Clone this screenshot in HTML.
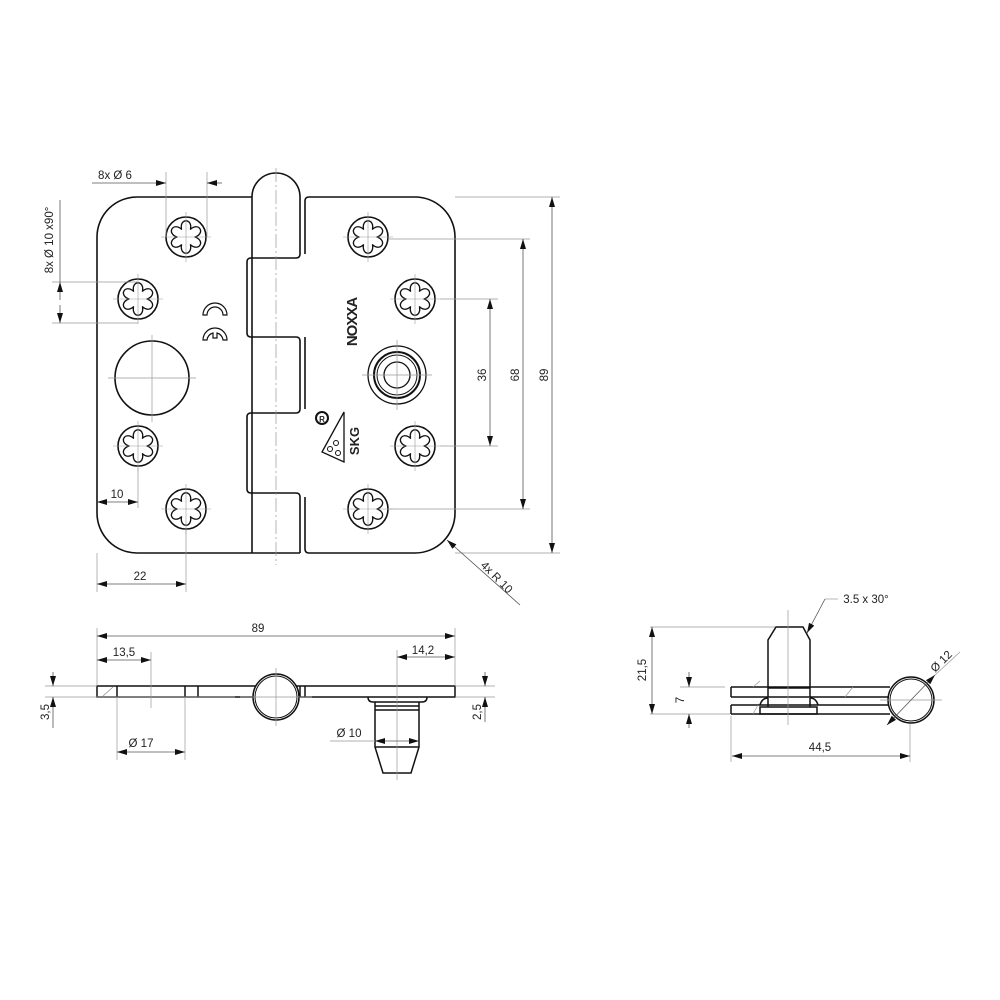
<!DOCTYPE html>
<html><head><meta charset="utf-8"><style>
html,body{margin:0;padding:0;background:#fff}
svg{display:block}
text{font-family:"Liberation Sans",sans-serif;font-size:11.5px;fill:#222}
</style></head><body>
<svg width="1000" height="1000" viewBox="0 0 1000 1000" xmlns="http://www.w3.org/2000/svg">
<defs>
<marker id="a" viewBox="0 0 10 6" refX="10" refY="3" markerWidth="10" markerHeight="6" orient="auto-start-reverse" markerUnits="userSpaceOnUse"><path d="M0 0 L10 3 L0 6 Z" fill="#111"/></marker>
<g id="tx">
<circle r="20" fill="none" stroke="#111" stroke-width="1.6"/>
<path transform="scale(1.12)" d="M-4,-6.93 C-5.98,-16.98 5.98,-16.98 4,-6.93 C11.72,-13.66 17.69,-3.31 8,0 C17.69,3.31 11.72,13.66 4,6.93 C5.98,16.98 -5.98,16.98 -4,6.93 C-11.72,13.66 -17.69,3.31 -8,0 C-17.69,-3.31 -11.72,-13.66 -4,-6.93 Z" fill="none" stroke="#111" stroke-width="1.2" stroke-linejoin="round"/>
<line x1="-25" y1="0" x2="25" y2="0" stroke="#999" stroke-width="0.6"/>
<line x1="0" y1="-25" x2="0" y2="25" stroke="#999" stroke-width="0.6"/>
</g>
</defs>
<g fill="none" stroke="#111" stroke-width="1.6">
<path d="M252,197 H137 A40,40 0 0 0 97,237 V513 A40,40 0 0 0 137,553 H252"/>
<path d="M252,197 A24,24 0 0 1 300,197"/>
<line x1="252" y1="197" x2="252" y2="553"/>
<path d="M300,197 V254 Q300,258 296,258 H251 Q247,258 247,262 V333 Q247,337 251,337 H296 Q300,337 300,341 V409 Q300,413 296,413 H251 Q247,413 247,417 V489 Q247,493 251,493 H296 Q300,493 300,497 V553"/>
<line x1="252" y1="553" x2="300" y2="553"/>
<path d="M305,201 Q305,197 309,197 H415 A40,40 0 0 1 455,237 V513 A40,40 0 0 1 415,553 H309 Q305,553 305,549 V497"/>
<path d="M305,201 V254"/>
<path d="M305,337 V409"/>
<circle cx="152" cy="378" r="37"/>
<circle cx="397" cy="375" r="29" stroke-width="1.3"/>
<circle cx="397" cy="375" r="23" stroke-width="2"/>
<circle cx="397" cy="375" r="20" stroke-width="1"/>
<circle cx="397" cy="375" r="13" stroke-width="1.3"/>
<path d="M203,315 A12,12 0 0 1 227,315 L223,315 A8,8 0 0 0 207,315 Z" stroke-width="1.2"/>
<path d="M203,340 A12,12 0 0 1 227,340 L223,340 A8,8 0 0 0 217,333 L217,338 L213,338 L213,333 A8,8 0 0 0 207,340 Z" stroke-width="1.2"/>
<path d="M344,412 L344,462 L322,452 Z" stroke-width="1.3"/>
<circle cx="322" cy="418" r="6" stroke-width="2"/>
<circle cx="336" cy="443" r="2.5" stroke-width="1"/>
<circle cx="330" cy="449" r="2.5" stroke-width="1"/>
<circle cx="338" cy="453" r="2.5" stroke-width="1"/>
</g>
<text x="322" y="422" text-anchor="middle" style="font-size:8px;font-weight:bold">R</text>
<text transform="translate(357,322) rotate(-90)" text-anchor="middle" style="font-size:15px;font-weight:bold;letter-spacing:-1px">NOXXA</text>
<text transform="translate(359,441) rotate(-90)" text-anchor="middle" style="font-size:13px;font-weight:bold">SKG</text>
<use href="#tx" x="186" y="237"/><use href="#tx" x="138" y="299"/><use href="#tx" x="138" y="446"/><use href="#tx" x="186" y="509"/>
<use href="#tx" x="368" y="237"/><use href="#tx" x="415" y="299"/><use href="#tx" x="415" y="446"/><use href="#tx" x="368" y="509"/>
<g stroke="#999" stroke-width="0.7" fill="none">
<line x1="276" y1="168" x2="276" y2="565" stroke-dasharray="14,3,2,3"/>
<line x1="152" y1="335" x2="152" y2="422"/><line x1="108" y1="378" x2="196" y2="378"/>
<line x1="397" y1="340" x2="397" y2="410"/><line x1="362" y1="375" x2="432" y2="375"/>
<line x1="166" y1="172" x2="166" y2="237"/><line x1="207" y1="172" x2="207" y2="237"/>
<line x1="52" y1="282" x2="138" y2="282"/><line x1="52" y1="323" x2="138" y2="323"/>
<line x1="455" y1="197" x2="560" y2="197"/><line x1="388" y1="239" x2="530" y2="239"/>
<line x1="440" y1="299" x2="498" y2="299"/><line x1="440" y1="446" x2="498" y2="446"/>
<line x1="388" y1="509" x2="530" y2="509"/><line x1="455" y1="553" x2="560" y2="553"/>
<line x1="97" y1="553" x2="97" y2="592"/><line x1="186" y1="530" x2="186" y2="592"/>
<line x1="138" y1="468" x2="138" y2="508"/>
</g>
<g stroke="#555" stroke-width="0.8" fill="none">
<line x1="92" y1="183" x2="166" y2="183" marker-end="url(#a)"/>
<line x1="222" y1="183" x2="207" y2="183" marker-end="url(#a)"/>
<line x1="60" y1="200" x2="60" y2="282"/>
<line x1="60" y1="300" x2="60" y2="282" marker-end="url(#a)"/>
<line x1="60" y1="305" x2="60" y2="323" marker-end="url(#a)"/>
<line x1="490" y1="299" x2="490" y2="446" marker-start="url(#a)" marker-end="url(#a)"/>
<line x1="523" y1="239" x2="523" y2="509" marker-start="url(#a)" marker-end="url(#a)"/>
<line x1="552" y1="197" x2="552" y2="553" marker-start="url(#a)" marker-end="url(#a)"/>
<line x1="97" y1="502" x2="138" y2="502" marker-start="url(#a)" marker-end="url(#a)"/>
<line x1="97" y1="584" x2="186" y2="584" marker-start="url(#a)" marker-end="url(#a)"/>
<line x1="520" y1="605" x2="447" y2="540" marker-end="url(#a)"/>
</g>
<text x="115" y="179" text-anchor="middle">8x Ø 6</text>
<text transform="translate(53,240) rotate(-90)" text-anchor="middle">8x Ø 10 x90°</text>
<text transform="translate(486,375) rotate(-90)" text-anchor="middle">36</text>
<text transform="translate(519,375) rotate(-90)" text-anchor="middle">68</text>
<text transform="translate(548,375) rotate(-90)" text-anchor="middle">89</text>
<text x="117" y="498" text-anchor="middle">10</text>
<text x="140" y="580" text-anchor="middle">22</text>
<text transform="translate(494,580) rotate(45)" text-anchor="middle">4x R 10</text>

<g fill="none" stroke="#111" stroke-width="1.5">
<rect x="97" y="686" width="358" height="11"/>
<line x1="117" y1="686" x2="117" y2="697"/><line x1="185" y1="686" x2="185" y2="697"/><line x1="198" y1="686" x2="198" y2="697"/>
<line x1="300" y1="686" x2="300" y2="697"/><line x1="305" y1="686" x2="305" y2="697"/>
<circle cx="276" cy="697" r="23" fill="#fff" stroke-width="1.5"/>
<circle cx="276" cy="697" r="21" stroke-width="1"/>
<path d="M368,697 Q368,702 373,702 H422 Q427,702 427,697"/>
<path d="M375,702 V747 L383,773 H411 L419,747 V702"/>
<line x1="375" y1="706" x2="419" y2="706"/><line x1="375" y1="710" x2="419" y2="710"/><line x1="375" y1="747" x2="419" y2="747"/>
</g>
<line x1="103" y1="696" x2="113" y2="687" stroke="#888" stroke-width="0.7"/>
<g stroke="#999" stroke-width="0.7" fill="none">
<line x1="97" y1="628" x2="97" y2="686"/><line x1="455" y1="628" x2="455" y2="686"/>
<line x1="151" y1="652" x2="151" y2="708"/><line x1="397" y1="650" x2="397" y2="780"/>
<line x1="117" y1="697" x2="117" y2="760"/><line x1="185" y1="697" x2="185" y2="760"/>
<line x1="276" y1="668" x2="276" y2="726"/><line x1="240" y1="697" x2="312" y2="697"/>
<line x1="45" y1="686" x2="97" y2="686"/><line x1="45" y1="697" x2="235" y2="697"/>
<line x1="455" y1="686" x2="495" y2="686"/><line x1="455" y1="697" x2="495" y2="697"/>
<line x1="330" y1="741" x2="375" y2="741"/>
</g>
<g stroke="#555" stroke-width="0.8" fill="none">
<line x1="97" y1="636" x2="455" y2="636" marker-start="url(#a)" marker-end="url(#a)"/>
<line x1="97" y1="660" x2="151" y2="660" marker-start="url(#a)" marker-end="url(#a)"/>
<line x1="397" y1="657" x2="455" y2="657" marker-start="url(#a)" marker-end="url(#a)"/>
<line x1="117" y1="752" x2="185" y2="752" marker-start="url(#a)" marker-end="url(#a)"/>
<line x1="375" y1="741" x2="419" y2="741" marker-start="url(#a)" marker-end="url(#a)"/>
<line x1="53" y1="672" x2="53" y2="686" marker-end="url(#a)"/>
<line x1="53" y1="728" x2="53" y2="697" marker-end="url(#a)"/>
<line x1="485" y1="672" x2="485" y2="686" marker-end="url(#a)"/>
<line x1="485" y1="722" x2="485" y2="697" marker-end="url(#a)"/>
</g>
<text x="258" y="632" text-anchor="middle">89</text>
<text x="124" y="656" text-anchor="middle">13,5</text>
<text x="423" y="654" text-anchor="middle">14,2</text>
<text x="141" y="747" text-anchor="middle">Ø 17</text>
<text x="349" y="737" text-anchor="middle">Ø 10</text>
<text transform="translate(49,712) rotate(-90)" text-anchor="middle">3,5</text>
<text transform="translate(481,712) rotate(-90)" text-anchor="middle">2,5</text>

<g fill="none" stroke="#111" stroke-width="1.5">
<path d="M731,687 H890 M731,697 H890 M731,687 V697"/>
<path d="M731,705 H890 M731,714 H890 M731,705 V714"/>
<path d="M768,697 V640 L776,627 H803 L810,640 V697"/>
<line x1="768" y1="688" x2="810" y2="688"/>
<path d="M760,705 Q762,698 768,698 M810,698 Q816,698 818,705"/>
<rect x="760" y="707" width="57" height="7"/>
<line x1="768" y1="698" x2="768" y2="707"/><line x1="810" y1="698" x2="810" y2="707"/>
<circle cx="911" cy="700" r="23" fill="#fff"/>
<circle cx="911" cy="700" r="21" stroke-width="1"/>
</g>
<g stroke="#999" stroke-width="0.7" fill="none">
<line x1="753" y1="687" x2="760" y2="681"/><line x1="845" y1="697" x2="853" y2="687"/><line x1="753" y1="714" x2="758" y2="705"/>
<line x1="788" y1="610" x2="788" y2="725"/>
<line x1="650" y1="627" x2="775" y2="627"/><line x1="650" y1="714" x2="730" y2="714"/>
<line x1="680" y1="687" x2="725" y2="687"/>
<line x1="731" y1="716" x2="731" y2="762"/><line x1="910" y1="724" x2="910" y2="762"/>
<line x1="880" y1="700" x2="942" y2="700"/>
<line x1="960" y1="652" x2="935" y2="675"/>
<line x1="838" y1="599" x2="825" y2="599"/>
</g>
<g stroke="#555" stroke-width="0.8" fill="none">
<line x1="652" y1="627" x2="652" y2="714" marker-start="url(#a)" marker-end="url(#a)"/>
<line x1="689" y1="672" x2="689" y2="687" marker-end="url(#a)"/>
<line x1="689" y1="728" x2="689" y2="714" marker-end="url(#a)"/>
<line x1="732" y1="756" x2="910" y2="756" marker-start="url(#a)" marker-end="url(#a)"/>
<line x1="935" y1="675" x2="887" y2="725" marker-start="url(#a)" marker-end="url(#a)"/>
<line x1="825" y1="599" x2="807" y2="633" marker-end="url(#a)"/>
</g>
<text x="866" y="603" text-anchor="middle">3.5 x 30°</text>
<text transform="translate(646,670) rotate(-90)" text-anchor="middle">21,5</text>
<text transform="translate(684,700) rotate(-90)" text-anchor="middle">7</text>
<text x="820" y="751" text-anchor="middle">44,5</text>
<text transform="translate(944,664) rotate(-45)" text-anchor="middle">Ø 12</text>
</svg>
</body></html>
